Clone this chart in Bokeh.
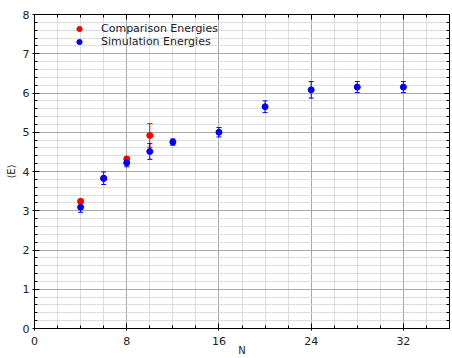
from bokeh.plotting import figure
from bokeh.models import (ColumnDataSource, Whisker, LinearAxis, SingleIntervalTicker,
                          Range1d, Legend, LegendItem, Grid)
from bokeh.embed import file_html
from bokeh.resources import INLINE

# ---- data ----
comp_n = [4, 6, 8, 10]
comp_e = [3.24, 3.82, 4.32, 4.92]
comp_err = [0.05, 0.05, 0.06, 0.30]

sim_n = [4, 6, 8, 10, 12, 16, 20, 24, 28, 32]
sim_e = [3.09, 3.83, 4.22, 4.51, 4.75, 5.00, 5.65, 6.08, 6.15, 6.15]
sim_err = [0.13, 0.16, 0.10, 0.20, 0.08, 0.12, 0.15, 0.21, 0.14, 0.14]

x_ticks_interval = 8
y_ticks_interval = 1
x_label = "N"
y_label = "\u27e8E\u27e9"
comp_label = "Comparison Energies"
sim_label = "Simulation Energies"

FONT = "DejaVu Sans"

comp = ColumnDataSource(dict(x=comp_n, y=comp_e,
                             lo=[a - b for a, b in zip(comp_e, comp_err)],
                             hi=[a + b for a, b in zip(comp_e, comp_err)]))
sim = ColumnDataSource(dict(x=sim_n, y=sim_e,
                            lo=[a - b for a, b in zip(sim_e, sim_err)],
                            hi=[a + b for a, b in zip(sim_e, sim_err)]))

p = figure(width=452, height=358, output_backend="svg", toolbar_location=None,
           x_range=Range1d(0, 36), y_range=Range1d(0, 8),
           min_border_left=34, min_border_right=3, min_border_top=14, min_border_bottom=30,
           x_axis_type=None, y_axis_type=None)
p.background_fill_color = "white"
p.border_fill_color = "white"
p.outline_line_color = "black"
p.outline_line_width = 1

xt = SingleIntervalTicker(interval=x_ticks_interval, num_minor_ticks=4)
yt = SingleIntervalTicker(interval=y_ticks_interval, num_minor_ticks=5)


def style_axis(ax, labels=True, ticks=None):
    ax.axis_line_color = "black"
    ax.major_tick_line_color = "black"
    ax.minor_tick_line_color = "black"
    ax.major_tick_in = 5
    ax.major_tick_out = 2
    ax.minor_tick_in = 3
    ax.minor_tick_out = 0
    if labels:
        ax.major_label_text_font = FONT
        ax.major_label_text_font_size = "11px"
        ax.major_label_text_color = "#222222"
    else:
        ax.major_label_overrides = {t: "" for t in ticks}
        ax.major_label_standoff = 0
        ax.major_tick_out = 0


xgrid = Grid(dimension=0, ticker=xt, grid_line_color="#aaaaaa",
             minor_grid_line_color="#dddddd")
ygrid = Grid(dimension=1, ticker=yt, grid_line_color="#aaaaaa",
             minor_grid_line_color="#cccccc", minor_grid_line_dash="2 1")
p.add_layout(xgrid)
p.add_layout(ygrid)

xb = LinearAxis(ticker=xt, axis_label=x_label)
style_axis(xb)
xb.major_label_standoff = 6
xb.axis_label_standoff = -3
xb.axis_label_text_font = FONT
xb.axis_label_text_font_style = "normal"
xb.axis_label_text_font_size = "10px"
xb.axis_label_text_color = "#222222"
p.add_layout(xb, "below")

yl = LinearAxis(ticker=yt, axis_label=y_label)
style_axis(yl)
yl.major_label_standoff = 3
yl.axis_label_standoff = 3
yl.axis_label_text_font = FONT
yl.axis_label_text_font_style = "normal"
yl.axis_label_text_font_size = "10px"
yl.axis_label_text_color = "#222222"
p.add_layout(yl, "left")

xa = LinearAxis(ticker=xt)
style_axis(xa, labels=False, ticks=[0, 8, 16, 24, 32])
p.add_layout(xa, "above")

yr = LinearAxis(ticker=yt)
style_axis(yr, labels=False, ticks=list(range(0, 9)))
p.add_layout(yr, "right")

# error bars
wc = Whisker(source=comp, base="x", upper="hi", lower="lo", line_color="red", line_width=1)
wc.upper_head.size = 5
wc.lower_head.size = 5
wc.upper_head.line_color = "red"
wc.lower_head.line_color = "red"
p.add_layout(wc)

rc = p.scatter("x", "y", source=comp, size=6, color="red")

ws = Whisker(source=sim, base="x", upper="hi", lower="lo", line_color="blue", line_width=1)
ws.upper_head.size = 5
ws.lower_head.size = 5
ws.upper_head.line_color = "blue"
ws.lower_head.line_color = "blue"
p.add_layout(ws)

rs = p.scatter("x", "y", source=sim, size=6, color="blue")

legend = Legend(items=[LegendItem(label=comp_label, renderers=[rc]),
                       LegendItem(label=sim_label, renderers=[rs])],
                location=(38, 280), orientation="vertical")
legend.border_line_color = None
legend.background_fill_alpha = 0
legend.padding = 0
legend.margin = 0
legend.spacing = 0
legend.glyph_width = 14
legend.glyph_height = 13
legend.label_height = 13
legend.label_standoff = 15
legend.label_text_font = FONT
legend.label_text_font_size = "11px"
legend.label_text_color = "#222222"
p.add_layout(legend, "center")

open("out.html", "w").write(file_html(p, INLINE))
